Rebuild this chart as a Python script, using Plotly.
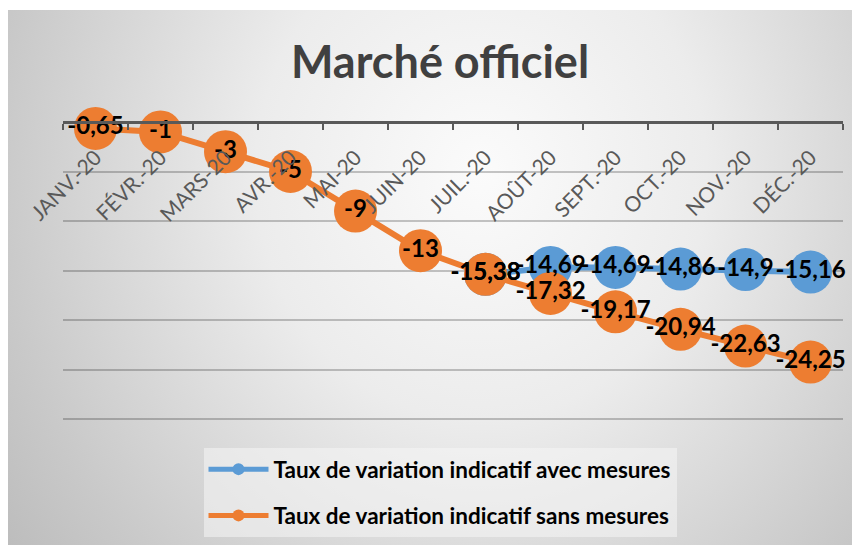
import plotly.graph_objects as go

# data
months = ["JANV.-20", "FÉVR.-20", "MARS-20", "AVR.-20", "MAI-20", "JUIN-20",
          "JUIL.-20", "AOÛT-20", "SEPT.-20", "OCT.-20", "NOV.-20", "DÉC.-20"]
avec_mesures = [None, None, None, None, None, None,
                -15.38, -14.69, -14.69, -14.86, -14.9, -15.16]
sans_mesures = [-0.65, -1, -3, -5, -9, -13,
                -15.38, -17.32, -19.17, -20.94, -22.63, -24.25]

BLUE = "#5B9BD5"
ORANGE = "#ED7D31"
FONT = "Lato"


def fr_label(v):
    return "" if v is None else f"{v:g}".replace(".", ",")


W, H = 860, 545
OFF = 8  # page body margin


def px_x(x):
    return (x - OFF) / W


def px_y(y):
    return 1 - (y - OFF) / H


fig = go.Figure()

# grey radial background of the chart area (own hidden subplot, drawn first)
fig.add_trace(go.Scatter(
    x=[-0.2, 1.3, 1.3, -0.2, -0.2],
    y=[-0.6, -0.6, 2.0, 2.0, -0.6],
    mode="lines", fill="toself", line=dict(width=0),
    fillgradient=dict(type="radial",
                      colorscale=[[0, "#fbfbfb"], [0.35, "#ececec"],
                                  [0.75, "#c9c9c9"], [1, "#b5b5b5"]]),
    xaxis="x", yaxis="y", hoverinfo="skip", showlegend=False,
))

series = [
    ("Taux de variation indicatif avec mesures", avec_mesures, BLUE),
    ("Taux de variation indicatif sans mesures", sans_mesures, ORANGE),
]
for i, (name, vals, color) in enumerate(series):
    fig.add_trace(go.Scatter(
        x=months, y=vals, name=name, legendgroup=f"g{i}",
        mode="lines+markers",
        line=dict(color=color, width=6),
        marker=dict(color=color, size=43),
        xaxis="x2", yaxis="y2", cliponaxis=False, hoverinfo="skip",
    ))

# data labels on top of every series, as Excel draws them
for i, (name, vals, color) in enumerate(series):
    fig.add_trace(go.Scatter(
        x=months, y=vals, mode="text", showlegend=False,
        text=[fr_label(v) for v in vals],
        textposition="middle center",
        textfont=dict(family=FONT, size=24, color="black", weight="bold"),
        xaxis="x2", yaxis="y2", cliponaxis=False, hoverinfo="skip",
    ))

ytop_dom = px_y(122)
ybot_dom = px_y(421)

fig.update_layout(
    width=W, height=H,
    margin=dict(l=0, r=0, t=0, b=0, autoexpand=False),
    paper_bgcolor="white",
    plot_bgcolor="rgba(0,0,0,0)",
    title=dict(text="<b>Marché officiel</b>", x=px_x(440), xanchor="center",
               y=px_y(62), yanchor="middle", automargin=False,
               font=dict(family=FONT, size=45, color="#404040")),
    xaxis=dict(domain=[0, 1], range=[0, 1], visible=False, fixedrange=True,
               automargin=False),
    yaxis=dict(domain=[0, px_y(10)], range=[0, 1], visible=False, fixedrange=True,
               automargin=False),
    xaxis2=dict(
        domain=[px_x(63), px_x(843)],
        anchor="free", position=ytop_dom, automargin=False,
        range=[-0.5, len(months) - 0.5],
        showline=True, linecolor="#595959", linewidth=3,
        ticks="outside", ticklen=6, tickwidth=2, tickcolor="#595959",
        tickson="boundaries", tickangle=-45, ticklabelstandoff=13,
        tickfont=dict(family=FONT, size=21, color="#595959"),
        showgrid=False, zeroline=False,
    ),
    yaxis2=dict(
        domain=[ybot_dom, ytop_dom], anchor="x2", automargin=False,
        range=[-30.2, 0], tickvals=[-30, -25, -20, -15, -10, -5, 0],
        showticklabels=False, showline=False, zeroline=False,
        gridcolor="rgba(0,0,0,0.22)", gridwidth=1.5,
    ),
    showlegend=True,
    legend=dict(
        x=px_x(440), xanchor="center", y=px_y(448), yanchor="top",
        bgcolor="rgba(245,245,245,0.55)",
        font=dict(family=FONT, size=22.5, color="black", weight="bold"),
        itemsizing="constant", itemwidth=60, tracegroupgap=14,
    ),
)

fig.write_html("out.html")
